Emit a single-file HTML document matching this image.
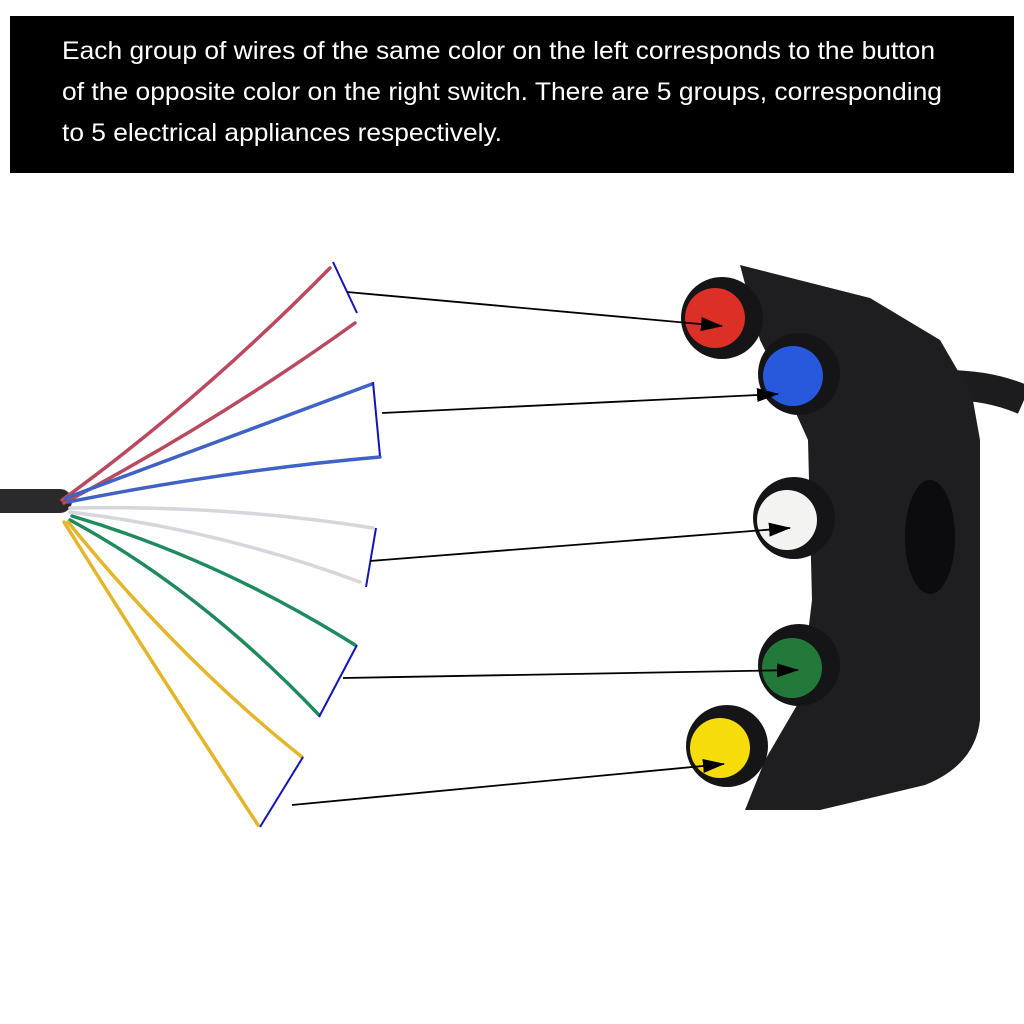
<!DOCTYPE html>
<html><head><meta charset="utf-8"><style>
html,body{margin:0;padding:0;background:#fff;}
body{width:1024px;height:1024px;overflow:hidden;position:relative;font-family:"Liberation Sans",sans-serif;}
</style></head><body>
<svg width="1024" height="1024" viewBox="0 0 1024 1024" xmlns="http://www.w3.org/2000/svg" style="position:absolute;left:0;top:0">
<rect x="10" y="16" width="1004" height="157" fill="#000"/>
<g fill="#fff" font-family="Liberation Sans, sans-serif" font-size="25" lengthAdjust="spacingAndGlyphs">
<text x="62" y="59" textLength="873" lengthAdjust="spacingAndGlyphs">Each group of wires of the same color on the left corresponds to the button</text>
<text x="62" y="100" textLength="880" lengthAdjust="spacingAndGlyphs">of the opposite color on the right switch. There are 5 groups, corresponding</text>
<text x="62" y="141" textLength="440" lengthAdjust="spacingAndGlyphs">to 5 electrical appliances respectively.</text>
</g>
<!-- cable -->
<path d="M0 501 L60 501" stroke="#2a2a2c" stroke-width="24" stroke-linecap="round"/>
<g fill="none" stroke-width="3.5" stroke-linecap="round">
<path d="M62 500 Q200 400 330 268" stroke="#b8495e"/>
<path d="M64 503 Q220 420 355 323" stroke="#b8495e"/>
<path d="M66 498 Q220 440 372 384" stroke="#3f63c4"/>
<path d="M68 502 Q230 470 380 457" stroke="#3f63c4"/>
<path d="M70 508 Q230 505 373 528" stroke="#d6d6dc"/>
<path d="M70 512 Q220 530 360 582" stroke="#d6d6dc"/>
<path d="M72 516 Q220 560 355 645" stroke="#1f8a5e"/>
<path d="M70 520 Q200 590 319 715" stroke="#1f8a5e"/>
<path d="M68 522 Q180 660 302 757" stroke="#e4b52a"/>
<path d="M64 522 Q150 660 258 825" stroke="#e4b52a"/>
</g>
<g stroke="#1414b4" stroke-width="2" fill="none">
<path d="M333 262 L357 313"/>
<path d="M373 382 L380 456"/>
<path d="M376 528 L366 587"/>
<path d="M357 645 L319 717"/>
<path d="M303 757 L260 827"/>
</g>
<!-- switch -->
<path d="M945 385 Q990 385 1024 400" stroke="#1c1c1e" stroke-width="30" fill="none"/>
<path d="M740 265 L870 298 L940 340 L972 395 L980 440 L980 720 Q975 765 925 785 L820 810 L745 810 L765 760 L800 700 L812 600 L808 440 L790 400 L760 340 Z" fill="#1e1e21"/>
<ellipse cx="930" cy="537" rx="25" ry="57" fill="#0c0c0e"/>
<g>
<circle cx="722" cy="318" r="41" fill="#151517"/><circle cx="715" cy="318" r="30" fill="#dc2f26"/>
<circle cx="799" cy="374" r="41" fill="#151517"/><circle cx="793" cy="376" r="30" fill="#2858dc"/>
<circle cx="794" cy="518" r="41" fill="#151517"/><circle cx="787" cy="520" r="30" fill="#f3f3f1"/>
<circle cx="799" cy="665" r="41" fill="#151517"/><circle cx="792" cy="668" r="30" fill="#23793a"/>
<circle cx="727" cy="746" r="41" fill="#151517"/><circle cx="720" cy="748" r="30" fill="#f5dc0a"/>
</g>
<defs>
<marker id="b" markerWidth="22" markerHeight="14" refX="21" refY="7" orient="auto" markerUnits="userSpaceOnUse"><path d="M0 0 L22 7 L0 14 Z" fill="#000"/></marker></defs>
<g stroke="#000" stroke-width="1.8" fill="none">
<path d="M347 292 L722 326" marker-end="url(#b)"/>
<path d="M382 413 L778 394" marker-end="url(#b)"/>
<path d="M370 561 L790 528" marker-end="url(#b)"/>
<path d="M343 678 L798 670" marker-end="url(#b)"/>
<path d="M292 805 L724 764" marker-end="url(#b)"/>
</g>
</svg>
</body></html>
